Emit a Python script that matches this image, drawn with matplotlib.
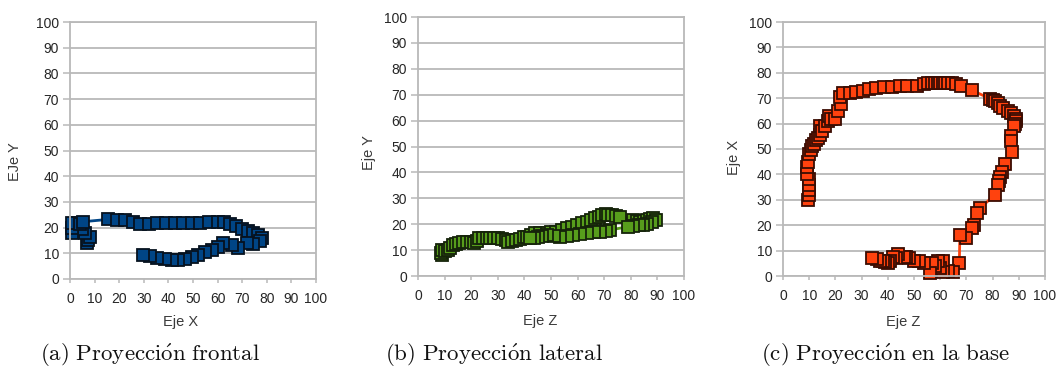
import matplotlib
matplotlib.use("Agg")
import matplotlib.pyplot as plt

plt.rcParams["font.family"] = ["Liberation Sans", "DejaVu Sans"]
plt.rcParams["mathtext.fontset"] = "cm"

# (a) frontal projection: X vs Y
frontal_x = [6.8, 7.5, 8.1, 6.0, 5.0, 0.7, 0.9, 0.7, 2.5, 4.0, 5.4,
             15.6, 19.0, 22.3, 25.5, 28.5, 32.0, 35.5, 39.0, 42.5, 46.0, 49.5,
             53.0, 56.5, 60.0, 62.5,
             65.0, 67.5, 70.0, 72.5, 74.5, 76.5, 77.9, 77.4,
             74.5, 71.8, 68.4, 65.7, 62.3, 60.3, 57.6, 54.9, 52.2,
             49.4, 46.8, 44.0, 41.3, 38.5, 35.5, 32.5, 29.8]
frontal_y = [13.9, 15.0, 16.5, 17.8, 19.5, 17.8, 20.0, 21.7, 21.8, 21.5, 22.3,
             23.2, 23.0, 22.9, 22.3, 21.5, 21.5, 21.7, 21.7, 21.7, 21.7, 21.7,
             21.9, 22.1, 22.3, 22.3,
             21.3, 20.5, 19.4, 18.6, 17.9, 17.0, 16.0, 14.8,
             13.6, 13.9, 12.2, 13.2, 13.9, 12.6, 11.3, 10.4, 9.3,
             8.4, 7.7, 7.4, 7.4, 7.8, 8.2, 8.8, 9.3]

# (b) lateral projection: Z vs Y
lateral_z = [8.9, 8.8, 9.2, 10.0, 11.3, 12.2, 13.0, 14.2, 15.4, 17.0, 18.6,
             20.0, 21.0, 22.0, 23.0, 24.5, 26.0, 27.0, 28.5, 30.0, 31.5, 33.0,
             34.0, 35.5, 37.0, 38.5, 40.0, 40.8, 42.5, 44.0, 46.0, 48.4, 50.0,
             52.0, 54.0, 56.0, 57.8, 59.6, 61.5, 63.4, 65.0, 66.5, 68.0, 69.0,
             70.5, 71.5, 72.8, 74.5, 76.0, 80.9, 82.2, 83.5, 84.8, 86.0, 87.3,
             88.5, 89.5, 88.0, 86.0, 84.5, 83.0, 81.0, 79.0, 72.2, 70.5, 68.4,
             66.0, 63.4, 61.0, 58.4, 56.0, 53.4, 51.0, 48.4, 46.5, 45.0, 43.5, 42.0]
lateral_y = [8.1, 9.0, 10.1, 9.5, 10.1, 11.0, 12.0, 12.4, 12.6, 13.0, 13.3,
             13.0, 12.6, 13.5, 14.5, 14.8, 14.5, 14.5, 14.6, 14.5, 14.2, 13.8,
             13.3, 13.5, 13.9, 14.4, 14.9, 15.2, 15.8, 16.5, 16.5, 16.5, 16.8,
             17.1, 17.7, 18.4, 19.0, 19.7, 20.3, 21.0, 21.6, 22.3, 22.9, 23.6,
             23.8, 23.6, 23.6, 23.3, 22.9, 21.6, 21.2, 21.0, 21.3, 21.6, 22.0,
             22.3, 21.5, 20.8, 20.0, 19.8, 19.5, 19.2, 19.0, 17.8, 17.5, 17.1,
             16.8, 16.5, 16.1, 15.8, 15.5, 15.2, 15.5, 15.8, 15.4, 15.0, 14.8, 14.5]

# (c) base projection: Z vs X
base_z = [9.7, 9.8, 10.0, 10.0, 9.8, 9.2, 9.2, 9.5, 10.0, 10.5, 11.0, 11.8,
          12.6, 13.3, 14.0, 14.0, 15.0, 16.0, 17.0, 17.5, 18.5, 20.0, 21.0, 22.0,
          21.8, 23.0, 25.5, 28.0, 30.5, 33.0, 35.5, 38.5, 41.5, 44.5, 47.5, 51.0,
          54.0, 55.5, 57.0, 58.0, 59.0, 60.0, 61.0, 62.0, 63.0, 64.5, 66.0, 68.0,
          72.0, 79.0, 80.0, 81.0, 82.0, 83.0, 84.0, 85.7, 87.0, 88.0, 89.0, 89.0,
          88.5, 88.0, 87.0, 87.0, 87.5, 84.7, 83.5, 83.0, 82.5, 82.0, 81.0, 75.0,
          74.0, 73.0, 72.0, 70.0, 67.5, 67.3, 65.0, 63.0, 61.0, 61.0, 60.0, 59.0,
          58.0, 57.0, 56.0, 54.0, 52.0, 50.0, 48.0, 47.0, 46.0, 44.0, 43.0, 42.0,
          41.0, 40.0, 39.0, 38.0, 37.0, 36.0, 33.8]
base_x = [30.0, 32.0, 34.0, 36.0, 38.0, 40.0, 43.0, 45.0, 48.0, 49.5, 51.0, 52.0,
          53.5, 54.5, 55.5, 59.0, 57.0, 59.0, 61.0, 63.0, 62.0, 61.7, 65.0, 67.6,
          70.6, 72.0, 72.0, 72.5, 73.0, 73.5, 74.0, 74.5, 74.5, 75.0, 75.0, 75.0,
          75.5, 76.0, 76.0, 76.0, 76.0, 76.0, 76.0, 76.0, 76.0, 76.0, 75.5, 75.0,
          73.2, 69.8, 69.3, 69.0, 68.0, 67.0, 66.0, 65.0, 64.0, 63.0, 62.0, 61.0,
          60.0, 59.0, 55.0, 53.0, 49.0, 44.0, 41.0, 39.0, 37.5, 36.0, 32.0, 26.6,
          24.7, 20.0, 19.0, 15.0, 16.0, 5.0, 1.7, 2.0, 6.0, 1.5, 3.0, 6.0,
          4.0, 5.0, 1.3, 5.0, 6.0, 6.0, 7.0, 7.5, 7.5, 8.7, 7.0, 7.5,
          6.0, 5.0, 5.5, 6.0, 6.0, 6.5, 7.0]

ticks = list(range(0, 101, 10))
captions = [r"$\mathrm{(a)\ Proyecci\acute{o}n\ frontal}$",
            r"$\mathrm{(b)\ Proyecci\acute{o}n\ lateral}$",
            r"$\mathrm{(c)\ Proyecci\acute{o}n\ en\ la\ base}$"]

W, H = 1057, 379
fig = plt.figure(figsize=(W / 100, H / 100), dpi=100)


def px_axes(left, top, right, bottom):
    return fig.add_axes([left / W, 1 - bottom / H, (right - left) / W, (bottom - top) / H])


panels = [
    dict(box=(70, 22, 316, 279), xs=frontal_x, ys=frontal_y, face="#004586",
         edge="#06121f", xl="Eje X", yl="EJe Y", xlc=(0.45, -0.167), ylc=(-0.224, 0.455),
         cap_x=150),
    dict(box=(418, 17, 684, 276), xs=lateral_z, ys=lateral_y, face="#579d1c",
         edge="#15230a", xl="Eje Z", yl="Eje Y", xlc=(0.459, -0.174), ylc=(-0.184, 0.475),
         cap_x=494),
    dict(box=(783, 22, 1045, 276), xs=base_z, ys=base_x, face="#ff420e",
         edge="#3a0c02", xl="Eje Z", yl="Eje X", xlc=(0.458, -0.181), ylc=(-0.187, 0.465),
         cap_x=886),
]

grid_col = "#b9b9b9"
for p, cap in zip(panels, captions):
    ax = px_axes(*p["box"])
    ax.set_xlim(0, 100)
    ax.set_ylim(0, 100)
    ax.set_xticks(ticks)
    ax.set_yticks(ticks)
    ax.yaxis.grid(True, color=grid_col, linewidth=1.3)
    ax.set_axisbelow(True)
    for side in ("left", "bottom", "right", "top"):
        ax.spines[side].set_color(grid_col)
        ax.spines[side].set_linewidth(1.3)
    ax.tick_params(axis="x", length=3, width=1.1, color=grid_col, pad=6.5,
                   labelsize=10, labelcolor="#262626")
    ax.tick_params(axis="y", length=5, width=1.1, color=grid_col, pad=3,
                   labelsize=10, labelcolor="#262626")
    ax.plot(p["xs"], p["ys"], color=p["face"], linewidth=2, marker="s",
            markersize=8.2, markerfacecolor=p["face"], markeredgecolor=p["edge"],
            markeredgewidth=1.3, clip_on=False)
    ax.set_xlabel(p["xl"], fontsize=10.5, color="#3a3a3a", va="center", ha="center")
    ax.xaxis.set_label_coords(*p["xlc"])
    ax.set_ylabel(p["yl"], fontsize=10.5, color="#3a3a3a", va="center", ha="center")
    ax.yaxis.set_label_coords(*p["ylc"])
    fig.text(p["cap_x"] / W, 1 - 355 / H, cap, fontsize=16.5, ha="center",
             va="center", color="#111111")

fig.savefig("out.png", dpi=100, facecolor="white")
